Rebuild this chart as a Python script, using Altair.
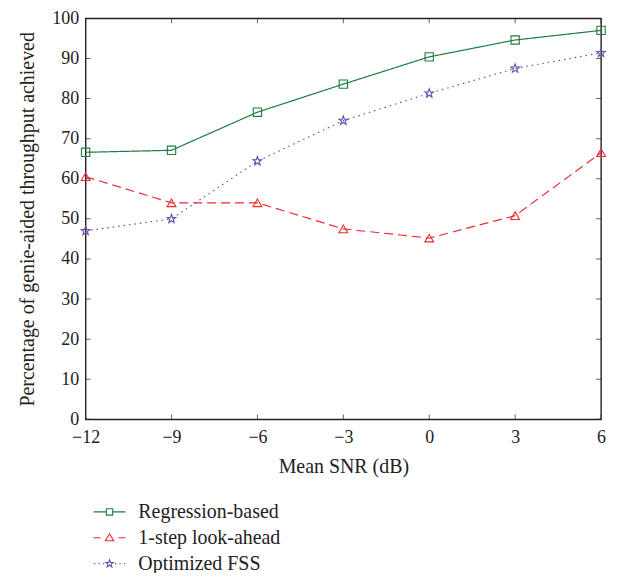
import altair as alt
import pandas as pd

snr = [-12, -9, -6, -3, 0, 3, 6]
regression = [66.6, 67.1, 76.6, 83.6, 90.4, 94.6, 97.0]
lookahead = [60.5, 54.0, 54.0, 47.5, 45.2, 50.8, 66.5]
fss = [47.0, 50.0, 64.4, 74.5, 81.3, 87.5, 91.4]

series_names = ["Regression-based", "1-step look-ahead", "Optimized FSS"]
colors = ["#1e7d3e", "#ee2a2f", "#6a50aa"]
x_ticks = [-12, -9, -6, -3, 0, 3, 6]
y_ticks = [0, 10, 20, 30, 40, 50, 60, 70, 80, 90, 100]

rows = []
for name, vals in zip(series_names, [regression, lookahead, fss]):
    for s, v in zip(snr, vals):
        rows.append({"snr": s, "pct": v, "series": name})
df = pd.DataFrame(rows)

FONT = "Liberation Serif"
STAR = "M0,-1L0.235,-0.324L0.951,-0.309L0.38,0.124L0.588,0.809L0,0.4L-0.588,0.809L-0.38,0.124L-0.951,-0.309L-0.235,-0.324Z"

def scaled_star(s):
    pts = STAR[1:-1].split("L")
    out = []
    for p in pts:
        a, b = p.split(",")
        out.append(f"{float(a)*s:.3f},{float(b)*s:.3f}")
    return "M" + "L".join(out) + "Z"

leg_square = "M-1.6,0H-0.32M0.32,0H1.6M-0.32,-0.32H0.32V0.32H-0.32Z"
leg_tri = "M-1.6,0H-0.9M0.9,0H1.6M0,-0.4L0.42,0.3L-0.42,0.3Z"
leg_star = ("M-1.55,0h0.12M-1.1,0h0.12M-0.65,0h0.12M0.55,0h0.12M1.0,0h0.12M1.45,0h0.12"
            + scaled_star(0.4))

xs = alt.Scale(domain=[-12, 6], nice=False, zero=False)
ys = alt.Scale(domain=[0, 100], nice=False)
cs = alt.Scale(domain=series_names, range=colors)

x_enc = alt.X("snr:Q", scale=xs,
              axis=alt.Axis(values=x_ticks, title="Mean SNR (dB)", labelFlush=False,
                            labelPadding=9, titlePadding=10))
y_enc = alt.Y("pct:Q", scale=ys,
              axis=alt.Axis(values=y_ticks, title="Percentage of genie-aided throughput achieved",
                            labelFlush=False, labelPadding=7, titlePadding=14))

lines = alt.Chart(df).mark_line(strokeWidth=1.2).encode(
    x=x_enc, y=y_enc,
    color=alt.Color("series:N", scale=cs, legend=None),
    strokeDash=alt.StrokeDash("series:N",
                              scale=alt.Scale(domain=series_names, range=[[1, 0], [9, 5], [1.5, 4]]),
                              legend=None),
)

points = alt.Chart(df).mark_point(filled=False, strokeWidth=1.1, opacity=1).encode(
    x="snr:Q", y="pct:Q",
    color=alt.Color("series:N", scale=cs, legend=None),
    shape=alt.Shape("series:N",
                    scale=alt.Scale(domain=series_names, range=["square", "triangle-up", STAR]),
                    legend=None),
    size=alt.Size("series:N", scale=alt.Scale(domain=series_names, range=[70, 85, 65]), legend=None),
)

leg = dict(title=None, orient="none", legendX=13, legendY=485,
           symbolSize=400, symbolOpacity=1, symbolStrokeWidth=1.1,
           symbolFillColor="transparent",
           labelFont=FONT, labelFontSize=20, labelColor="#222",
           labelOffset=18, rowPadding=5, padding=0)

legend_layer = alt.Chart(df).mark_point(filled=False, opacity=0).encode(
    x="snr:Q", y="pct:Q",
    color=alt.Color("series:N", scale=cs, legend=alt.Legend(**leg)),
    shape=alt.Shape("series:N",
                    scale=alt.Scale(domain=series_names, range=[leg_square, leg_tri, leg_star]),
                    legend=alt.Legend(**leg)),
)

xt = pd.DataFrame({"xt": x_ticks})
yt = pd.DataFrame({"yt": y_ticks})
tick_color = "#222"
xb = alt.Chart(xt).mark_tick(orient="vertical", size=10, clip=True, color=tick_color, thickness=1).encode(
    x="xt:Q", y=alt.datum(0))
xtop = alt.Chart(xt).mark_tick(orient="vertical", size=10, clip=True, color=tick_color, thickness=1).encode(
    x="xt:Q", y=alt.datum(100))
yl = alt.Chart(yt).mark_tick(orient="horizontal", size=10, clip=True, color=tick_color, thickness=1).encode(
    y="yt:Q", x=alt.datum(-12))
yr = alt.Chart(yt).mark_tick(orient="horizontal", size=10, clip=True, color=tick_color, thickness=1).encode(
    y="yt:Q", x=alt.datum(6))

chart = alt.layer(lines, xb, xtop, yl, yr, points, legend_layer).resolve_scale(
    shape="independent", size="independent"
).resolve_legend(color="independent", shape="independent").properties(
    width=518, height=403,
    autosize=alt.AutoSizeParams(type="none"),
    padding={"left": 78, "top": 9, "right": 10, "bottom": 153},
).configure_view(
    stroke="#222", strokeWidth=1.4
).configure_axis(
    domain=False, ticks=False, grid=False,
    labelFont=FONT, labelFontSize=18, labelColor="#222",
    titleFont=FONT, titleFontSize=20, titleColor="#222", titleFontWeight="normal",
)

chart.save("out.html", embed_options={"renderer": "svg", "actions": False})
